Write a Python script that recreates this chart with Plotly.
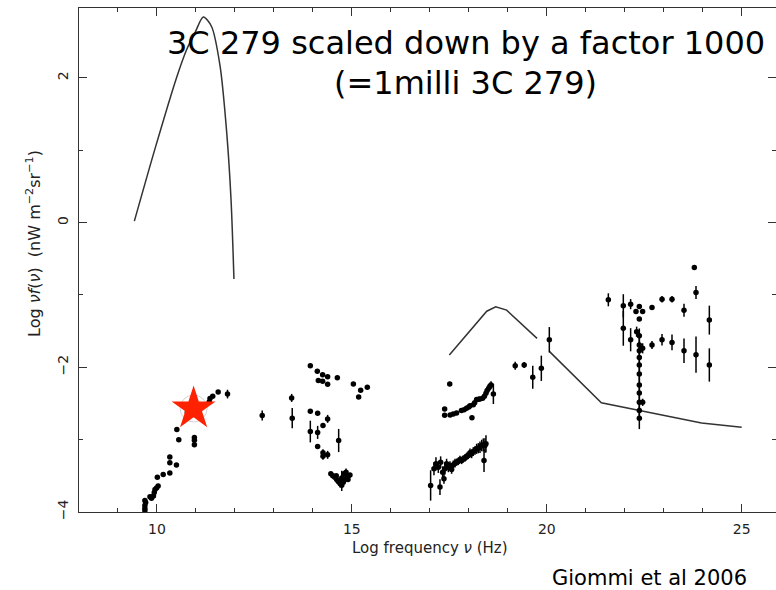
import plotly.graph_objects as go

# ---- model curves (scaled-down 3C 279 SED) ----
sync_x = [9.42, 9.96, 10.50, 10.76, 10.98, 11.19, 11.40, 11.62, 11.79, 11.90, 11.975]
sync_y = [0.02, 1.04, 2.00, 2.39, 2.63, 2.84, 2.71, 2.16, 1.24, 0.32, -0.78]

ic1_x = [17.50, 18.46, 18.69, 18.97, 19.75]
ic1_y = [-1.83, -1.225, -1.165, -1.21, -1.60]

ic2_x = [20.065, 21.40, 23.97, 25.0]
ic2_y = [-1.78, -2.49, -2.77, -2.83]

# ---- radio / mm data ----
radio_x = [9.69, 9.69, 9.69, 9.71, 9.69, 9.82, 9.86, 9.91, 9.93, 9.95, 9.99, 10.03,
           10.01, 10.16, 10.33, 10.33, 10.33, 10.50, 10.51, 10.56, 10.96, 10.96, 10.96,
           10.78, 11.34, 11.36, 11.43, 11.57, 11.81]
radio_y = [-3.98, -3.95, -3.91, -3.87, -3.84, -3.79, -3.81, -3.78, -3.73, -3.69, -3.67, -3.64,
           -3.52, -3.48, -3.46, -3.32, -3.24, -3.35, -2.86, -3.00, -2.97, -3.01, -3.07,
           -2.62, -2.48, -2.43, -2.40, -2.34, -2.37]
radio_err = [0] * 28 + [0.06]

# ---- infrared / optical data ----
ir_x = [12.70, 13.455, 13.47, 13.934, 14.113, 14.25, 14.378, 14.139, 14.25, 14.378,
        14.627, 15.038, 15.225, 15.396, 15.174, 13.934, 14.122, 14.378, 14.259, 13.934,
        14.122, 14.661, 14.122, 14.259, 14.259, 14.378]
ir_y = [-2.667, -2.423, -2.704, -1.978, -2.056, -2.102, -2.129, -2.184, -2.193, -2.235,
        -2.143, -2.230, -2.318, -2.276, -2.41, -2.607, -2.635, -2.713, -2.805, -2.888,
        -2.90, -3.012, -3.095, -3.182, -3.228, -3.21]
ir_err = [0.07, 0.055, 0.14, 0, 0, 0, 0, 0, 0, 0,
          0, 0, 0, 0, 0, 0.03, 0.02, 0.055, 0.02, 0.15,
          0.09, 0.16, 0.03, 0.05, 0.05, 0.055]

# ---- optical / UV cluster ----
uv_x = [14.46, 14.51, 14.56, 14.61, 14.65, 14.70, 14.74, 14.78, 14.82, 14.87, 14.91,
        14.95, 14.80, 14.85, 14.70, 14.74, 14.60, 14.90]
uv_y = [-3.47, -3.50, -3.52, -3.55, -3.58, -3.61, -3.63, -3.59, -3.55, -3.52, -3.50,
        -3.49, -3.47, -3.45, -3.56, -3.53, -3.50, -3.55]
uv_err = [0.02, 0.02, 0.03, 0.03, 0.04, 0.05, 0.08, 0.04, 0.03, 0.03, 0.02,
          0.02, 0.03, 0.05, 0.03, 0.10, 0.02, 0.02]

# ---- X-ray, high state ----
xs_x = [17.51, 17.38, 17.38, 17.52, 17.60, 17.685, 17.81, 17.88, 17.94, 18.00, 18.03,
        18.115, 18.08, 18.15, 18.20, 18.25, 18.285, 18.354, 18.40, 18.44, 18.47, 18.51,
        18.54, 18.57, 18.63]
xs_y = [-2.23, -2.575, -2.663, -2.66, -2.645, -2.63, -2.597, -2.588, -2.565, -2.55, -2.53,
        -2.516, -2.698, -2.49, -2.446, -2.44, -2.437, -2.428, -2.40, -2.359, -2.322, -2.29,
        -2.262, -2.244, -2.368]
xs_err = [0, 0.02, 0.02, 0.02, 0.02, 0.02, 0.02, 0.02, 0.02, 0.02, 0.02,
          0.02, 0, 0.02, 0.03, 0.03, 0.03, 0.03, 0.03, 0.04, 0.04, 0.04,
          0.05, 0.05, 0.14]

# ---- X-ray, low state ----
xl_x = [17.02, 17.26, 17.106, 17.157, 17.217, 17.277, 17.328, 17.362, 17.388, 17.43,
        17.474, 17.516, 17.559, 17.602, 17.645, 17.688, 17.73, 17.773, 17.816, 17.859,
        17.901, 17.944, 17.987, 18.03, 18.072, 18.115, 18.158, 18.20, 18.243, 18.286,
        18.33, 18.372, 18.414, 18.44, 18.39]
xl_y = [-3.633, -3.656, -3.403, -3.334, -3.38, -3.311, -3.449, -3.541, -3.403, -3.334,
        -3.38, -3.357, -3.412, -3.348, -3.325, -3.311, -3.302, -3.274, -3.288, -3.265,
        -3.256, -3.228, -3.219, -3.182, -3.196, -3.164, -3.15, -3.127, -3.118, -3.104,
        -3.081, -3.072, -3.081, -3.058, -3.288]
xl_err = [0.21, 0.11, 0.09, 0.09, 0.08, 0.08, 0.08, 0.07, 0.08, 0.07,
          0.07, 0.06, 0.06, 0.06, 0.06, 0.05, 0.05, 0.05, 0.05, 0.05,
          0.05, 0.05, 0.05, 0.06, 0.06, 0.06, 0.06, 0.07, 0.07, 0.08,
          0.08, 0.09, 0.10, 0.12, 0.16]

# ---- hard X-ray ----
hx_x = [19.19, 19.42, 19.64, 19.86, 20.065]
hx_y = [-1.978, -1.968, -2.138, -2.014, -1.619]
hx_err = [0.055, 0.04, 0.16, 0.175, 0.175]

# ---- gamma-ray ----
gm_x = [21.579, 21.963, 21.963, 22.151, 22.151, 22.288, 22.374, 22.459, 22.374, 22.305,
        22.374, 22.374, 22.374, 22.374, 22.374, 22.374, 22.374, 22.374, 22.374, 22.374,
        22.374, 22.459, 22.459, 22.699, 22.699, 22.956, 22.956, 23.212, 23.212, 23.52,
        23.52, 23.785, 23.828, 23.828, 24.17, 24.17]
gm_y = [-1.067, -1.15, -1.462, -1.127, -1.619, -1.228, -1.159, -1.228, -1.334, -1.508,
        -1.563, -1.692, -1.771, -1.863, -1.968, -2.093, -2.245, -2.355, -2.484, -2.598,
        -2.704, -1.738, -2.484, -1.173, -1.692, -1.058, -1.619, -1.058, -1.656, -1.21,
        -1.771, -0.621, -0.966, -1.826, -1.348, -1.968]
gm_err = [0.09, 0.16, 0.24, 0.07, 0.16, 0, 0, 0, 0, 0.07,
          0.10, 0.12, 0.12, 0.12, 0.12, 0.12, 0.12, 0.12, 0.12, 0.12,
          0.15, 0.07, 0.05, 0, 0.055, 0.045, 0.08, 0.045, 0.11, 0.09,
          0.17, 0, 0.09, 0.25, 0.20, 0.23]

# ---- highlighted source ----
star_x = [10.94]
star_y = [-2.57]

LINE = "#333333"
fig = go.Figure()

for mx, my in [(sync_x, sync_y), (ic1_x, ic1_y), (ic2_x, ic2_y)]:
    fig.add_trace(go.Scatter(x=mx, y=my, mode="lines",
                             line=dict(color=LINE, width=1.5,
                                       shape="spline" if mx is sync_x else "linear",
                                       smoothing=0.8),
                             hoverinfo="skip"))

for dx, dy, de in [(radio_x, radio_y, radio_err), (ir_x, ir_y, ir_err), (uv_x, uv_y, uv_err),
                   (xs_x, xs_y, xs_err), (xl_x, xl_y, xl_err), (hx_x, hx_y, hx_err),
                   (gm_x, gm_y, gm_err)]:
    fig.add_trace(go.Scatter(
        x=dx, y=dy, mode="markers",
        marker=dict(color="black", size=5.5),
        error_y=dict(type="data", array=de, visible=True, thickness=1.5, width=0, color="black"),
    ))

fig.add_trace(go.Scatter(x=star_x, y=star_y, mode="markers",
                         marker=dict(symbol="circle-open", size=27, color="#d4d4d4",
                                     line=dict(width=1))))
fig.add_trace(go.Scatter(x=star_x, y=star_y, mode="markers",
                         marker=dict(symbol="star", size=33, color="#ff2200",
                                     line=dict(width=0))))

axis_common = dict(
    showline=True, linecolor=LINE, linewidth=1.2, mirror="ticks",
    ticks="inside", ticklen=8, tickwidth=1.2, tickcolor=LINE,
    showgrid=False, zeroline=False,
    tickfont=dict(family="DejaVu Sans", size=14, color="#222222"),
)

fig.update_xaxes(range=[8, 25.88], tick0=0, dtick=5,
                 minor=dict(dtick=1, ticks="inside", ticklen=4, tickcolor=LINE, tickwidth=1),
                 ticklabelstandoff=4, **axis_common)
fig.update_yaxes(range=[-4, 2.966], tick0=0, dtick=2, tickangle=-90,
                 minor=dict(dtick=1, ticks="inside", ticklen=4, tickcolor=LINE, tickwidth=1),
                 ticklabelstandoff=4, **axis_common)

W, H = 776, 590
L, R, T, B = 79, 0, 8, 78
pw, ph = W - L - R, H - T - B


def px(xp):
    return (xp - L) / pw


def py(yp):
    return (H - B - yp) / ph


big = dict(family="DejaVu Sans", size=32, color="black")
fig.add_annotation(text="3C 279 scaled down by a factor 1000", x=px(466.5), y=py(43),
                   xref="paper", yref="paper", showarrow=False, font=big,
                   xanchor="center", yanchor="middle")
fig.add_annotation(text="(=1milli 3C 279)", x=px(465), y=py(83),
                   xref="paper", yref="paper", showarrow=False, font=big,
                   xanchor="center", yanchor="middle")
fig.add_annotation(text="Giommi et al 2006", x=px(649), y=py(578),
                   xref="paper", yref="paper", showarrow=False,
                   font=dict(family="DejaVu Sans", size=21, color="black"),
                   xanchor="center", yanchor="middle")
fig.add_annotation(text="Log frequency <i>ν</i> (Hz)", x=px(430), y=py(548),
                   xref="paper", yref="paper", showarrow=False,
                   font=dict(family="DejaVu Sans", size=15, color="#222222"),
                   xanchor="center", yanchor="middle")
fig.add_annotation(text="Log <i>νf</i>(<i>ν</i>)  (nW m<sup>−2</sup>sr<sup>−1</sup>)",
                   x=px(33), y=py(244), textangle=-90,
                   xref="paper", yref="paper", showarrow=False,
                   font=dict(family="DejaVu Sans", size=16, color="#222222"),
                   xanchor="center", yanchor="middle")

fig.update_layout(width=W, height=H, margin=dict(l=L, r=R, t=T, b=B),
                  plot_bgcolor="white", paper_bgcolor="white", showlegend=False)

fig.write_html("out.html")
